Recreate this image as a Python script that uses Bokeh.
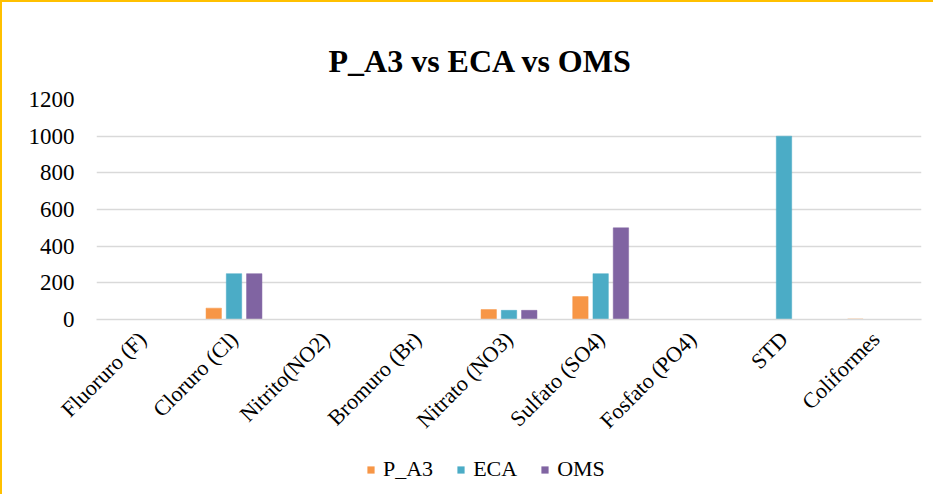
from bokeh.plotting import figure
from bokeh.layouts import column
from bokeh.models import Range1d, FixedTicker, Legend, LegendItem, ColumnDataSource
from bokeh.transform import dodge
from bokeh.embed import file_html
from bokeh.resources import INLINE
import math

categories = ["Fluoruro (F)", "Cloruro (Cl)", "Nitrito(NO2)", "Bromuro (Br)",
              "Nitrato (NO3)", "Sulfato (SO4)", "Fosfato (PO4)", "STD", "Coliformes"]
p_a3 = [0, 62, 0, 0, 54, 125, 0, 0, 3]
eca = [0, 250, 0, 0, 50, 250, 0, 1000, 0]
oms = [0, 250, 0, 0, 50, 500, 0, 0, 0]
series_names = ["P_A3", "ECA", "OMS"]
colors = ["#F79646", "#4BACC6", "#8064A2"]
y_ticks = [0, 200, 400, 600, 800, 1000, 1200]

FONT = "Liberation Serif"

src = ColumnDataSource(dict(cat=categories, P_A3=p_a3, ECA=eca, OMS=oms))

p = figure(x_range=categories, y_range=Range1d(0, 1200),
           frame_width=825, frame_height=220,
           output_backend="svg", toolbar_location=None, title="P_A3 vs ECA vs OMS",
           min_border_left=94, min_border_right=12, min_border_top=97,
           min_border_bottom=125)

p.outline_line_color = None
p.background_fill_color = "white"
p.border_fill_color = "white"

p.title.align = "left"
p.title.offset = 232
p.title.text_font = FONT
p.title.text_font_size = "32px"
p.title.text_font_style = "bold"
p.title.text_color = "black"
p.title.standoff = 42

offsets = [-0.221, 0.0, 0.221]
for name, col, off in zip(series_names, colors, offsets):
    p.vbar(x=dodge("cat", off, range=p.x_range), top=name, width=0.168,
           source=src, fill_color=col, line_color=col, line_width=0.5)

p.xgrid.grid_line_color = None
p.ygrid.grid_line_color = "#D9D9D9"
p.ygrid.grid_line_width = 1.5
p.yaxis.ticker = FixedTicker(ticks=y_ticks)
p.yaxis.axis_line_color = None
p.yaxis.major_tick_line_color = None
p.yaxis.minor_tick_line_color = None
p.yaxis.major_label_text_font = FONT
p.yaxis.major_label_text_font_size = "23px"
p.yaxis.major_label_text_color = "black"
p.yaxis.major_label_standoff = 16

p.xaxis.axis_line_color = "#D9D9D9"
p.xaxis.axis_line_width = 1.5
p.xaxis.major_tick_line_color = None
p.xaxis.minor_tick_line_color = None
p.xaxis.major_label_orientation = math.pi / 4
p.xaxis.major_label_text_font = FONT
p.xaxis.major_label_text_font_size = "22px"
p.xaxis.major_label_text_color = "black"
p.xaxis.major_label_standoff = 10

# legend strip below the chart (zero-height helper bars carry the legend swatches)
p2 = figure(width=931, height=50, x_range=Range1d(0, 1), y_range=Range1d(0, 1),
            output_backend="svg", toolbar_location=None,
            x_axis_location=None, y_axis_location=None, min_border=0)
p2.outline_line_color = None
p2.grid.grid_line_color = None
p2.background_fill_color = "white"
p2.border_fill_color = "white"
leg_renderers = []
for name, col in zip(series_names, colors):
    r = p2.vbar(x=[0.5], top=[0], bottom=[0], width=0.01, fill_color=col, line_color=None)
    leg_renderers.append(r)

legend = Legend(items=[LegendItem(label=n, renderers=[r]) for n, r in zip(series_names, leg_renderers)],
                orientation="horizontal", location=(270, 12))
legend.label_text_font = FONT
legend.label_text_font_size = "22px"
legend.label_text_color = "black"
legend.glyph_width = 9
legend.glyph_height = 9
legend.label_standoff = 8
legend.spacing = 23
legend.padding = 0
legend.margin = 0
legend.border_line_color = None
legend.background_fill_alpha = 0
p2.add_layout(legend)

layout = column(p, p2, spacing=0)
layout.styles = {"border-left": "2px solid #FFC000", "border-top": "2px solid #FFC000",
                 "border-right": "none", "border-bottom": "none"}

open("out.html", "w").write(file_html(layout, INLINE))
